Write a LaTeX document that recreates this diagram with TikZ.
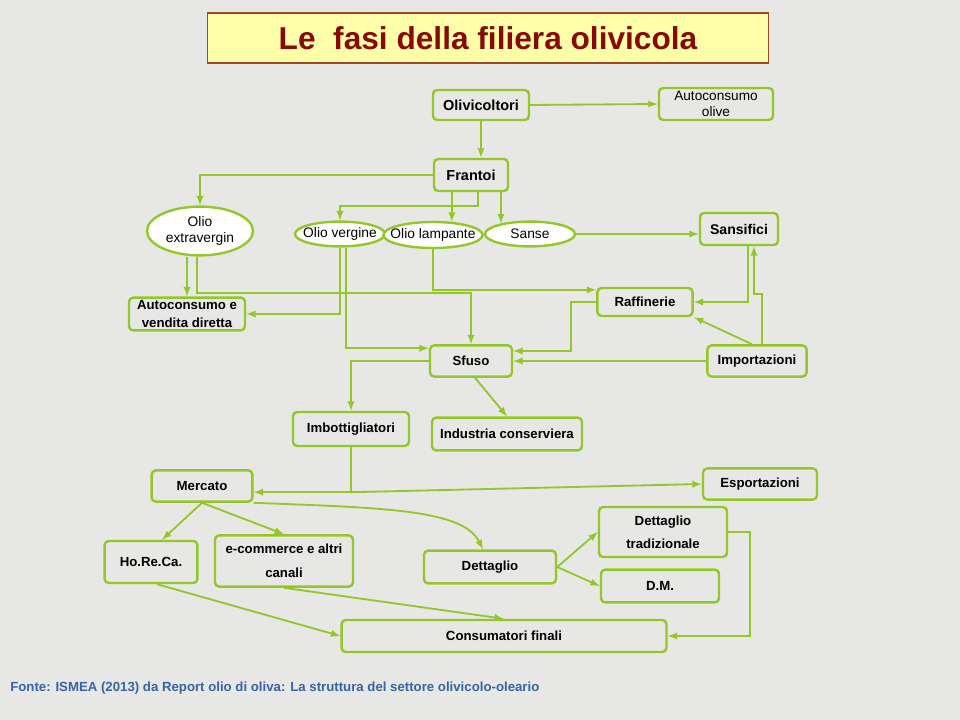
\documentclass[tikz,border=0pt]{standalone}
\usepackage{fontspec}
\setmainfont{Liberation Sans}
\usepackage{tikz}
\usetikzlibrary{arrows}
\usetikzlibrary{calc}
\usetikzlibrary{positioning}
\usetikzlibrary{shapes.geometric}

\definecolor{verde}{RGB}{145,200,40}
\definecolor{sfondo}{RGB}{231,231,229}
\definecolor{rossoscuro}{RGB}{135,10,10}
\definecolor{bordotitolo}{RGB}{165,70,40}
\definecolor{giallino}{RGB}{255,255,170}
\definecolor{blufonte}{RGB}{55,100,165}

\begin{document}
\begin{tikzpicture}
	[x=0.025cm, y=-0.025cm,
	 fase/.style={draw=verde, line width=1.7pt, rounded corners=3pt, align=center, inner sep=1pt, font=\fontsize{9.4}{13}\selectfont\bfseries},
	 ovale/.style={ellipse, draw=verde, line width=1.7pt, fill=white, align=center, inner sep=-8pt, font=\fontsize{9.8}{12}\selectfont},
	 freccia/.style={draw=verde, line width=1.3pt, -latex},
	 tratto/.style={draw=verde, line width=1.3pt}]
	\fill[sfondo] (0,0) rectangle (960,720);
	% titolo
	\node[draw=bordotitolo, fill=giallino, line width=0.8pt, minimum width=14cm, minimum height=1.25cm, text=rossoscuro, font=\fontsize{22.5}{26}\selectfont\bfseries] (tit) at (488,38) {Le~ fasi della filiera olivicola};
	% produzione
	\node[fase, font=\fontsize{10.3}{13}\selectfont\bfseries, minimum width=2.4cm, minimum height=0.75cm] (oli) at (481,105) {Olivicoltori};
	\node[fase, font=\fontsize{9.7}{11.5}\selectfont, minimum width=2.85cm, minimum height=0.8cm] (aup) at (716,104) {Autoconsumo\\olive};
	\node[fase, font=\fontsize{10.3}{13}\selectfont\bfseries, minimum width=1.85cm, minimum height=0.8cm] (fra) at (471,175) {Frantoi};
	\node[ovale, minimum width=2.65cm, minimum height=1.22cm] (ext) at (200,231) {Olio\\extravergin};
	\node[ovale, minimum width=2.25cm, minimum height=0.62cm] (ver) at (340,234) {Olio vergine};
	\node[ovale, minimum width=2.48cm, minimum height=0.65cm] (lam) at (433,235) {Olio lampante};
	\node[ovale, minimum width=2.25cm, minimum height=0.62cm] (san) at (530,234) {Sanse};
	\node[fase, font=\fontsize{10}{13}\selectfont\bfseries, minimum width=1.95cm, minimum height=0.8cm] (sfi) at (739,229) {Sansifici};
	% trasformazione
	\node[fase, font=\fontsize{9.4}{12.8}\selectfont\bfseries, minimum width=2.9cm, minimum height=0.82cm] (avd) at (187,314) {Autoconsumo e\\vendita diretta};
	\node[fase, minimum width=2.38cm, minimum height=0.7cm] (raf) at (645,302) {Raffinerie};
	\node[fase, minimum width=2.05cm, minimum height=0.78cm] (sfu) at (471,361) {Sfuso};
	\node[fase, minimum width=2.48cm, minimum height=0.78cm] (imp) at (757,361) {Importazioni};
	\node[fase, minimum width=2.9cm, minimum height=0.85cm] (imb) at (351,429) {Imbottigliatori};
	\node[fase, minimum width=3.75cm, minimum height=0.82cm] (ind) at (507,434) {Industria conserviera};
	% distribuzione
	\node[fase, minimum width=2.52cm, minimum height=0.78cm] (mer) at (202,486) {Mercato};
	\node[fase, minimum width=2.85cm, minimum height=0.78cm] (esp) at (760,484) {Esportazioni};
	\node[fase, font=\fontsize{9.4}{16.3}\selectfont\bfseries, minimum width=3.2cm, minimum height=1.25cm] (dtr) at (663,532) {Dettaglio\\tradizionale};
	\node[fase, minimum width=2.32cm, minimum height=1.05cm] (hor) at (151,562) {Ho.Re.Ca.};
	\node[fase, font=\fontsize{9.4}{17}\selectfont\bfseries, minimum width=3.45cm, minimum height=1.28cm] (eco) at (284,561) {e-commerce e altri\\canali};
	\node[fase, minimum width=3.3cm, minimum height=0.82cm] (det) at (490,567) {Dettaglio};
	\node[fase, minimum width=2.95cm, minimum height=0.82cm] (dm) at (660,586) {D.M.};
	\node[fase, minimum width=8.12cm, minimum height=0.8cm] (con) at (504,636) {Consumatori finali};
	% fonte
	\node[anchor=west, inner sep=0pt, text=blufonte, font=\fontsize{9.4}{11}\selectfont\bfseries] (fon) at (10,688) {Fonte: ISMEA (2013) da Report olio di oliva: La struttura del settore olivicolo-oleario};

	% collegamenti
	\draw[freccia] (oli.east) -- (aup.west);
	\draw[freccia] (oli.south) -- (oli.south |- fra.north);
	\draw[freccia] (fra.west) -| (ext.north);
	\draw[freccia] ([xshift=0.175cm]fra.south) -- ++(0,14) -| (ver.north);
	\draw[freccia] (fra.south -| lam.35) -- (lam.35);
	\draw[freccia] (fra.south -| san.160) -- (san.160);
	\draw[freccia] (san.east) -- (san.east -| sfi.west);
	\draw[freccia] (avd.north |- ext.south) -- (avd.north);
	\draw[freccia] ([xshift=-0.075cm]ext.south) -- ++(0,36) -| (sfu.north);
	\draw[freccia] (ver.south) |- (avd.east);
	\draw[freccia] ([xshift=0.15cm]ver.south) |- ([yshift=-0.1cm]sfu.north west);
	\draw[freccia] (lam.south) |- ([yshift=-0.075cm]raf.north west);
	\draw[freccia] ([xshift=0.225cm]sfi.south) |- (raf.east);
	\draw[freccia] ([xshift=0.125cm]imp.north) -- ++(0,-50) -| ([xshift=0.375cm]sfi.south);
	\draw[freccia] ([xshift=-0.125cm]imp.north) -- (raf.south east);
	\draw[freccia] (raf.west) -- ++(-25,0) |- ([yshift=0.25cm]sfu.east);
	\draw[freccia] (imp.west) -- (sfu.east);
	\draw[freccia] (sfu.west) -| (imb.north);
	\draw[freccia] ([xshift=0.1cm]sfu.south) -- (ind.north);
	\coordinate (bivio) at ($(imb.south)+(0,45)$);
	\draw[tratto] (imb.south) -- (bivio);
	\draw[freccia] (bivio) -- (bivio -| mer.east);
	\draw[freccia] (bivio) -- (esp.west);
	\draw[freccia] (mer.south) -- ([xshift=0.275cm]hor.north);
	\draw[freccia] (mer.south) -- (eco.north);
	\draw[freccia] (mer.south east) .. controls +(130,5) and +(-20,-40) .. ([xshift=-0.175cm]det.north);
	\draw[freccia] (det.east) -- (dtr.west);
	\draw[freccia] (det.east) -- (dm.west);
	\draw[freccia] (dtr.east) -- ++(22,0) |- (con.east);
	\draw[freccia] ([xshift=0.15cm]hor.south) -- (con.west);
	\draw[freccia] (eco.south) -- (con.north);
\end{tikzpicture}
\end{document}
